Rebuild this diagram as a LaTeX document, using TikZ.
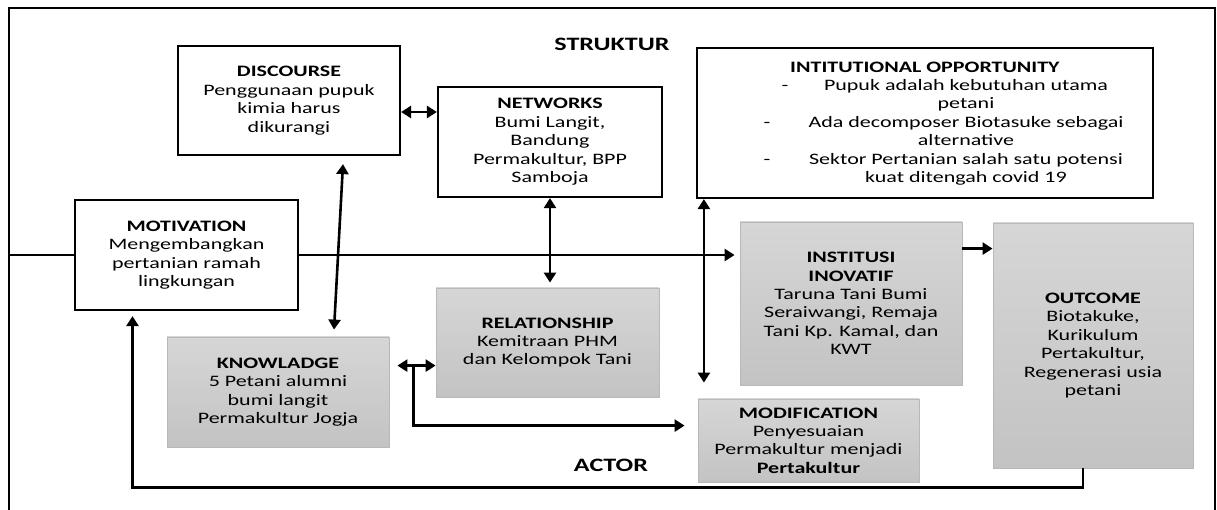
\documentclass[tikz,border=0pt]{standalone}
\usepackage{fontspec}
\setmainfont{Carlito}[FakeStretch=1.38]
\usetikzlibrary{arrows.meta,calc}
\definecolor{gtop}{HTML}{D6D6D6}
\definecolor{gbot}{HTML}{C3C3C3}
\definecolor{gline}{HTML}{B8B8B8}
\tikzset{
  whitebox/.style={draw=black, line width=2.2bp, fill=white, inner sep=0pt, align=center},
  graybox/.style={draw=gline, line width=0.8bp, top color=gtop, bottom color=gbot, inner sep=0pt, align=center},
  plaintext/.style={inner sep=0pt, align=center},
  bigtitle/.style={inner sep=0pt, font=\fontsize{19}{22}\selectfont\bfseries},
  conn/.style={line width=2.6bp},
  arr/.style={conn, -{Triangle[length=10bp,width=12bp]}},
  darr/.style={conn, {Triangle[length=10bp,width=12bp]}-{Triangle[length=10bp,width=12bp]}},
  frame/.style={line width=2.6bp}
}
\begin{document}
\begin{tikzpicture}[x=1bp,y=-1bp, font=\fontsize{16}{18.5}\selectfont]
\useasboundingbox (0,0) rectangle (1217,510);
\fill[white] (0,0) rectangle (1217,510);

% outer frame
\coordinate (fbl) at (9,510);
\coordinate (ftl) at (9,8);
\coordinate (ftr) at (1215,8);
\coordinate (fbr) at (1215,510);
\draw[frame] (fbl) -- (ftl) -- (ftr) -- (fbr);

% labels
\node[bigtitle] (struktur) at (612,44) {STRUKTUR};
\node[bigtitle] (actor) at (611,465) {ACTOR};

% boxes
\node[whitebox, minimum width=222bp, minimum height=109bp] (disc) at (289,100.5)
  {\textbf{DISCOURSE}\\Penggunaan pupuk\\kimia harus\\dikurangi};
\node[whitebox, minimum width=224bp, minimum height=110bp] (net) at (550,142)
  {\textbf{NETWORKS}\\Bumi Langit,\\Bandung\\Permakultur, BPP\\Samboja};
\node[whitebox, minimum width=456bp, minimum height=150bp] (inst) at (925,123) {};
\node[plaintext] (insttitle) at (925,67.5) {\textbf{INTITUTIONAL OPPORTUNITY}};
\node[plaintext] (instlist) at (966,132.25)
  {Pupuk adalah kebutuhan utama\\petani\\Ada decomposer Biotasuke sebagai\\alternative\\Sektor Pertanian salah satu potensi\\kuat ditengah covid 19};
\node[plaintext] (dash1) at (785,88) {-};
\node[plaintext] (dash2) at (767,125) {-};
\node[plaintext] (dash3) at (767,162) {-};

\node[whitebox, minimum width=223bp, minimum height=110bp] (motiv) at (186.5,255)
  {\textbf{MOTIVATION}\\Mengembangkan\\pertanian ramah\\lingkungan};
\node[graybox, minimum width=222bp, minimum height=110bp] (know) at (278,392)
  {\textbf{KNOWLADGE}\\5 Petani alumni\\bumi langit\\Permakultur Jogja};
\node[graybox, minimum width=223bp, minimum height=109bp] (rel) at (547.5,342.5)
  {\textbf{RELATIONSHIP}\\Kemitraan PHM\\dan Kelompok Tani};
\node[graybox, minimum width=222bp, minimum height=163bp] (inov) at (851,303.5)
  {\textbf{INSTITUSI}\\\textbf{INOVATIF}\\Taruna Tani Bumi\\Seraiwangi, Remaja\\Tani Kp. Kamal, dan\\KWT};
\node[graybox, minimum width=200bp, minimum height=245bp] (outc) at (1093,345.5)
  {\textbf{OUTCOME}\\Biotakuke,\\Kurikulum\\Pertakultur,\\Regenerasi usia\\petani};
\node[graybox, minimum width=221bp, minimum height=83bp] (modif) at (808.5,440.5)
  {\textbf{MODIFICATION}\\Penyesuaian\\Permakultur menjadi\\\textbf{Pertakultur}};

% connectors
\coordinate (dn) at ($(disc.east)+(0,11.5)$);
\draw[darr] (dn) -- (dn -| net.west);

\coordinate (dk1) at ($(disc.south)+(54,8)$);
\coordinate (dk2) at ($(know.north)+(56,-7)$);
\draw[darr] (dk1) -- (dk2);

\coordinate (nr2) at ($(net.south |- rel.north)+(0,-5)$);
\draw[darr] (net.south) -- (nr2);

\coordinate (im1) at ($(inst.south west)+(8,0)$);
\coordinate (im2) at ($(im1 |- modif.north)+(0,-16)$);
\draw[darr] (im1) -- (im2);

\coordinate (fl) at (ftl |- motiv.west);
\draw[conn] (fl) -- (motiv.west);
\draw[arr, shorten >=5bp] (motiv.east) -- (motiv.east -| inov.west);

\coordinate (io) at ($(inov.north east)+(0,27)$);
\draw[arr] (io) -- (io -| outc.west);

\coordinate (kr) at ($(know.north east)+(8,29)$);
\draw[darr] (kr) -- (kr -| rel.west);
\coordinate (kb) at ($(kr)+(16,0)$);
\coordinate (kc) at ($(kb)+(0,60)$);
\draw[arr, shorten >=13bp] (kb) -- (kc) -- (kc -| modif.west);

\coordinate (fb1) at ($(outc.south)+(-10,0)$);
\coordinate (fb2) at ($(fb1)+(0,19)$);
\coordinate (fb3) at ($(motiv.south)+(-54,5)$);
\draw[arr] (fb1) -- (fb2) -- (fb2 -| fb3) -- (fb3);
\end{tikzpicture}
\end{document}
